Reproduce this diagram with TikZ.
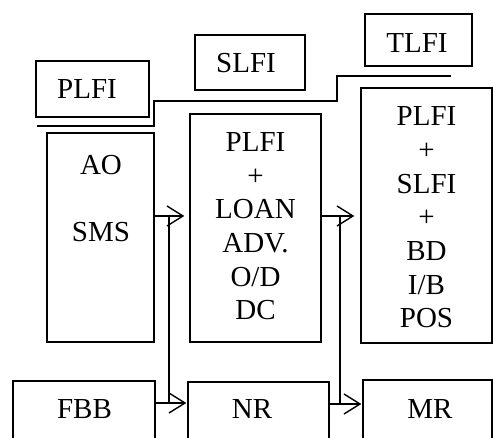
\documentclass[tikz,border=0pt]{standalone}
\usepackage{fontspec}
\setmainfont{Liberation Serif}
\usetikzlibrary{arrows.meta}
\begin{document}
\begin{tikzpicture}[x=1pt,y=-1pt,
  box/.style={draw,line width=1.4pt,inner sep=0pt},
  txt/.style={font=\fontsize{29}{33.7}\selectfont,align=center,anchor=base,inner sep=0pt},
  arr/.style={line width=1.4pt,-{Straight Barb[length=16pt,width=20pt,line width=1.4pt]}},
  ln/.style={line width=1.4pt}]
\useasboundingbox (0,0) rectangle (493,438);
\clip (0,0) rectangle (493,438);
% boxes
\node[box,minimum width=113pt,minimum height=56pt] (plfi) at (92.5,89) {};
\node[box,minimum width=110pt,minimum height=55pt] (slfi) at (250,62.5) {};
\node[box,minimum width=107pt,minimum height=52pt] (tlfi) at (418.5,40) {};
\node[box,minimum width=107pt,minimum height=209pt] (ao) at (100.5,237.5) {};
\node[box,minimum width=131pt,minimum height=228pt] (mid) at (255.5,228) {};
\node[box,minimum width=131pt,minimum height=255pt] (rgt) at (426.5,215.5) {};
\node[box,minimum width=142pt,minimum height=79pt] (fbb) at (84,420.5) {};
\node[box,minimum width=141pt,minimum height=78pt] (nr) at (258.5,421) {};
\node[box,minimum width=129pt,minimum height=80pt] (mr) at (427.5,420) {};
% texts (base anchor = baseline of last line)
\node[txt] (tplfi) at (87,99) {PLFI};
\node[txt] (tslfi) at (246,73) {SLFI};
\node[txt] (ttlfi) at (417,53) {TLFI};
\node[txt] (tao) at (101,242) {AO\\[33.7pt]SMS};
\node[txt] (tmid) at (255.5,320) {PLFI\\+\\LOAN\\ADV.\\O/D\\DC};
\node[txt] (trgt) at (426.5,328) {PLFI\\+\\SLFI\\+\\BD\\I/B\\POS};
\node[txt] (tfbb) at (84.5,418) {FBB};
\node[txt] (tnr) at (252,418) {NR};
\node[txt] (tmr) at (430,418) {MR};
% step line
\coordinate (s0) at (37,126);
\coordinate (s1) at (154,101);
\coordinate (s2) at (337,76);
\coordinate (s3) at (451,76);
\draw[ln] (s0) -| (s1) -| (s2) -- (s3);
\draw[ln] (224,100.4) -- (272,100.4);
% connectors
\coordinate (r1) at (0,216);
\coordinate (r2) at (0,216);
\coordinate (r3) at (0,403);
\coordinate (r4) at (0,404);
\draw[arr,shorten >=5pt] (ao.east |- r1) -- (mid.west |- r1);
\draw[arr,shorten >=6pt] (mid.east |- r2) -- (rgt.west |- r2);
\draw[arr,shorten >=1pt] (fbb.east |- r3) -- (nr.west |- r3);
\draw[arr,shorten >=1pt] (nr.east |- r4) -- (mr.west |- r4);
\coordinate (v1t) at (169,216);
\coordinate (v1b) at (169,403);
\coordinate (v2t) at (340,216);
\coordinate (v2b) at (340,404);
\draw[ln] (v1t) -- (v1b);
\draw[ln] (v2t) -- (v2b);
\end{tikzpicture}
\end{document}
